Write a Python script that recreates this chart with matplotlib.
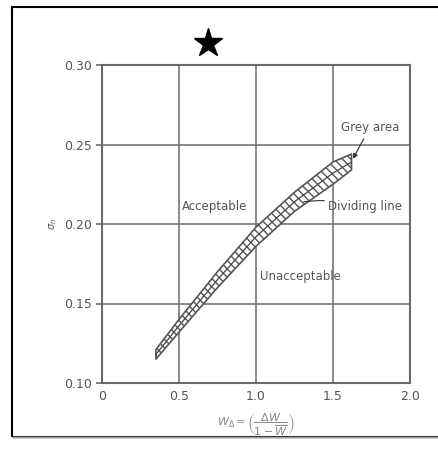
import matplotlib.pyplot as plt
from matplotlib.patches import Rectangle

# band (x = W_delta, y = sigma_n)
band_x = [0.35, 0.50, 0.75, 1.00, 1.25, 1.50, 1.62]
band_lower = [0.115, 0.132, 0.160, 0.186, 0.208, 0.225, 0.234]
band_upper = [0.121, 0.140, 0.170, 0.198, 0.220, 0.239, 0.244]
divide_y = [0.118, 0.136, 0.165, 0.192, 0.214, 0.232, 0.239]

x_ticks = [0, 0.5, 1.0, 1.5, 2.0]
x_ticklabels = ['0', '0.5', '1.0', '1.5', '2.0']
y_ticks = [0.10, 0.15, 0.20, 0.25, 0.30]
y_ticklabels = ['0.10', '0.15', '0.20', '0.25', '0.30']

grey = '#6a6a6a'
txt = '#555555'

plt.rcParams['hatch.linewidth'] = 1.0
plt.rcParams['font.family'] = ['DejaVu Sans']

fig = plt.figure(figsize=(4.38, 4.51), dpi=100)
fig.patches.append(Rectangle((12 / 438, 14 / 451), 1.2, 430 / 451, transform=fig.transFigure,
                             fill=False, edgecolor='black', linewidth=1.5))
fig.patches.append(Rectangle((12 / 438, 14 / 451), 1.2, 0, transform=fig.transFigure,
                             fill=False, edgecolor='#999999', linewidth=1.0))

ax = fig.add_axes([102 / 438, 1 - 383 / 451, 308 / 438, 318 / 451])
ax.set_xlim(0, 2.0)
ax.set_ylim(0.10, 0.30)
ax.set_xticks(x_ticks)
ax.set_xticklabels(x_ticklabels)
ax.set_yticks(y_ticks)
ax.set_yticklabels(y_ticklabels)
ax.tick_params(axis='x', length=0, pad=5, labelsize=9, labelcolor=txt)
ax.tick_params(axis='y', length=4, width=1.2, color=grey, pad=3, labelsize=9, labelcolor=txt)
for s in ax.spines.values():
    s.set_color(grey)
    s.set_linewidth(1.5)
ax.grid(True, color=grey, linewidth=1.1)
ax.set_axisbelow(True)

ax.fill_between(band_x, band_lower, band_upper, facecolor='white', edgecolor='#555555',
                hatch='\\\\\\\\', linewidth=1.2, zorder=3)
ax.plot(band_x, divide_y, color='#444444', linewidth=0.9, zorder=4)

ax.text(0.73, 0.211, 'Acceptable', ha='center', va='center', fontsize=8.5, color=txt, zorder=5)
ax.text(1.29, 0.167, 'Unacceptable', ha='center', va='center', fontsize=8.5, color=txt, zorder=5)
ax.annotate('Grey area', xy=(1.63, 0.241), xytext=(1.74, 0.261), ha='center', va='center',
            fontsize=8.5, color=txt,
            arrowprops=dict(arrowstyle='-|>', color='#333333', lw=0.8, mutation_scale=7,
                            shrinkA=2, shrinkB=0))
ax.annotate('Dividing line', xy=(1.31, 0.214), xytext=(1.71, 0.211), ha='center', va='center',
            fontsize=8.5, color=txt,
            arrowprops=dict(arrowstyle='-', color='#333333', lw=0.8, shrinkA=1, shrinkB=0,
                            connectionstyle='arc3,rad=0.1'))

ax.plot([0.69], [0.314], marker='*', markersize=21, color='black', clip_on=False)

ax.set_ylabel(r'$\sigma_n$', fontsize=7, color=txt, labelpad=4)
ax.set_xlabel(r'$W_\Delta = \left(\dfrac{\Delta W}{1-\overline{W}}\right)$', fontsize=8,
              color='#888888', labelpad=6)

fig.savefig('out.png', dpi=100)
